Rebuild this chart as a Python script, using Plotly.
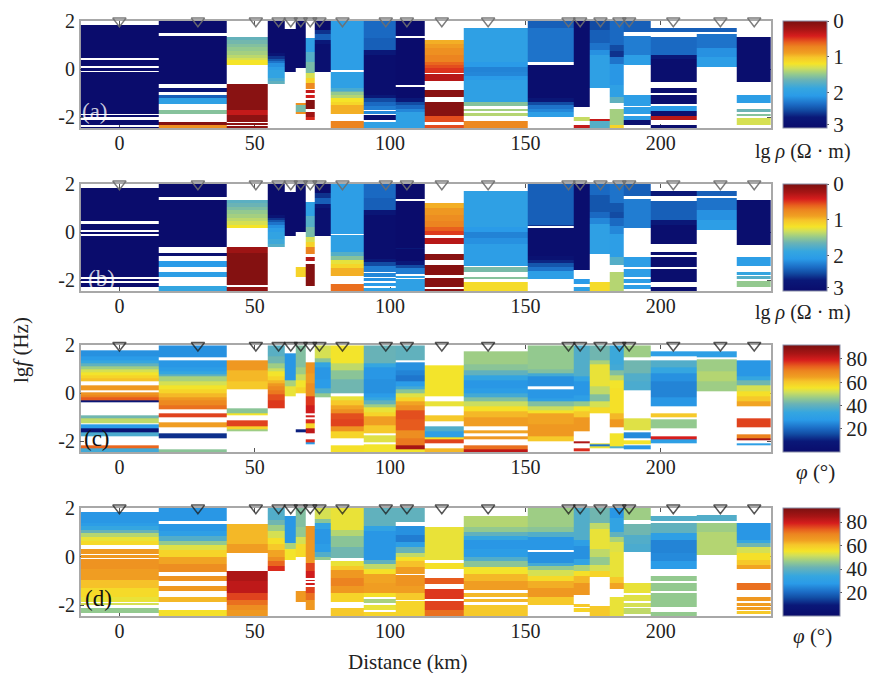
import plotly.graph_objects as go

N = None
# Column edges along the profile (km) and station positions (km)
EDGES = [-14.3, 14.6, 39.6, 54.8, 61.1, 65.2, 68.8, 72, 77.9, 90.4, 102.2, 112.9, 127.3, 151, 167.9, 173.8, 181.2, 186.4, 196.3, 213.2, 228, 240.7]
STATIONS = [0, 29, 50.4, 58.8, 63.3, 67, 70.5, 73.9, 82.4, 98.4, 106.2, 119.1, 136.2, 165.9, 170.2, 177.7, 184.7, 188.3, 204.6, 222, 234.5]
X_TICKS = [0, 50, 100, 150, 200]
Y_TICKS = [2, 0, -2]
Y_LABELS = ["2", "0", "-2"]
RHO_TICKS = [0, 1, 2, 2.9]
RHO_LABELS = ["0", "1", "2", "3"]
PHI_TICKS = [20, 40, 60, 80]

# Every column is a list of (lower edge in lg f, value) running down from lg f = 2
RHO_A = [
 [(1.83,N),(.47,3),(.36,N),(.11,3),(.03,N),(-.06,3),(-.13,N),(-1.85,3),(-1.92,N),(-2.0,3),(-2.1,N),(-2.33,3),(-2.42,N),(-2.45,3)],
 [(1.49,3),(1.36,N),(-.6,3),(-.8,N),(-.97,2.8),(-1.06,N),(-1.22,2.4),(-1.47,2.0),(-1.69,N),(-1.85,1.55),(-2.19,N),(-2.31,.05),(-2.45,.8)],
 [(1.35,N),(1.2,1.68),(1.05,1.62),(.9,1.56),(.75,1.5),(.6,1.45),(.48,1.38),(.37,1.3),(.19,1.2),(-.6,N),(-1.71,.08),(-1.92,.35),(-2.19,.1),(-2.24,N),(-2.31,.1),(-2.36,N),(-2.45,.1)],
 [(.65,3),(.55,2.8),(.44,2.6),(.34,2.45),(.24,2.3),(.1,2.15),(-.04,2.05),(-.36,1.95),(-.5,1.8),(-.6,1.7),(-2.45,N)],
 [(1.67,N),(-.14,3),(-2.45,N)],
 [(.03,3),(-1.43,N),(-1.5,.8),(-1.8,1.6),(-1.87,.8),(-2.45,N)],
 [(1.31,N),(.72,2.0),(.3,1.75),(-.18,1.6),(-.38,1.3),(-.56,1.1),(-.83,.75),(-.89,N),(-1.0,.35),(-1.06,N),(-1.22,.4),(-1.3,N),(-1.67,.05),(-1.78,N),(-2.0,.2),(-2.1,.45),(-2.45,N)],
 [(1.62,3),(1.45,2.6),(1.2,2.4),(1.05,2.7),(-.14,2.9),(-2.45,N)],
 [(-.04,2.05),(-.13,N),(-.8,2.0),(-.9,1.8),(-.97,1.65),(-1.08,1.5),(-1.19,1.4),(-1.35,1.2),(-1.5,1.12),(-1.85,.95),(-2.15,N),(-2.45,.72)],
 [(1.3,2.35),(.79,2.4),(.6,2.7),(-1.08,2.95),(-1.2,2.7),(-1.36,2.5),(-1.55,2.35),(-1.71,2.25),(-1.75,N),(-1.85,2.2),(-1.92,N),(-2.13,2.9),(-2.19,N),(-2.31,2.0),(-2.45,2.0)],
 [(1.39,3),(1.31,N),(-.67,3),(-.74,N),(-1.22,3),(-1.36,2.7),(-1.5,2.5),(-1.65,2.35),(-1.78,2.2),(-2.45,2.0)],
 [(1.21,N),(1.05,.95),(.86,.88),(.6,.8),(.31,.72),(.15,.62),(.03,.55),(-.18,.48),(-.22,N),(-.5,.3),(-.89,N),(-1.15,.08),(-1.38,N),(-1.94,.06),(-2.19,.55),(-2.31,N),(-2.45,.55)],
 [(1.72,N),(.31,2.0),(.1,2.1),(-.11,2.22),(-.3,2.2),(-.46,2.1),(-1.36,2.0),(-1.54,1.55),(-1.64,N),(-1.75,1.45),(-1.81,N),(-1.94,1.4),(-2.17,N),(-2.45,.75)],
 [(1.7,2.4),(.28,2.3),(.19,N),(-1.22,2.95),(-1.35,2.75),(-1.5,2.5),(-1.65,2.3),(-1.78,2.2),(-1.99,2.05),(-2.45,N)],
 [(-1.57,2.95),(-1.99,N),(-2.15,1.35),(-2.33,N),(-2.45,.35)],
 [(1.62,2.5),(1.07,2.4),(.8,2.3),(.58,2.15),(-.8,2.0),(-2.06,N),(-2.14,.35),(-2.45,1.75)],
 [(1.0,2.35),(.75,2.5),(.51,2.6),(.2,2.3),(-.67,2.12),(-1.15,2.0),(-1.4,1.7),(-1.68,N),(-2.31,1.45),(-2.45,1.1)],
 [(1.53,2.4),(1.38,N),(.58,2.25),(.17,2.05),(-1.06,N),(-1.53,2.05),(-1.58,N),(-1.85,2.05),(-1.94,N),(-2.13,2.05),(-2.33,2.9),(-2.45,N)],
 [(1.72,N),(1.53,2.4),(1.35,N),(.58,2.35),(.4,2.7),(-.53,2.95),(-.8,N),(-1.0,2.95),(-1.06,N),(-1.46,2.95),(-1.54,N),(-1.74,2.1),(-1.96,2.9),(-2.1,.3),(-2.31,N),(-2.45,2.95)],
 [(1.72,N),(1.53,2.4),(1.45,N),(.86,2.3),(.5,2.15),(.1,2.05),(-2.45,N)],
 [(1.35,N),(-.53,2.95),(-1.06,N),(-1.4,2.05),(-1.67,N),(-1.78,1.65),(-1.86,N),(-1.94,1.55),(-2.03,N),(-2.33,1.3),(-2.45,N)],
]
RHO_B = [
 [(1.82,N),(.47,3),(.33,N),(.08,3),(0,N),(-.06,3),(-.15,N),(-1.86,3),(-1.97,N),(-2.03,3),(-2.1,N),(-2.3,3),(-2.45,N)],
 [(1.47,3),(1.33,N),(-.62,3),(-.85,N),(-1.0,2.9),(-1.19,N),(-1.47,2.1),(-1.67,N),(-1.86,2.05),(-2.24,N),(-2.45,1.9)],
 [(1.33,N),(1.2,1.72),(1.05,1.65),(.9,1.58),(.75,1.5),(.6,1.45),(.45,1.38),(.3,1.3),(.15,1.2),(-.61,N),(-.85,.18),(-2.2,.05),(-2.3,N),(-2.45,.12)],
 [(.7,3),(.6,2.8),(.5,2.6),(.4,2.45),(.3,2.3),(.15,2.15),(.02,2.05),(-.3,1.95),(-.48,1.85),(-.6,1.75),(-2.45,N)],
 [(1.68,N),(-.17,3),(-2.45,N)],
 [(0,3),(-1.46,N),(-1.87,1.1),(-2.45,N)],
 [(1.27,N),(.65,2.0),(.2,1.75),(-.2,1.6),(-.42,1.3),(-.62,1.1),(-.9,.72),(-1.05,N),(-1.22,.3),(-1.33,N),(-2.25,.05),(-2.45,N)],
 [(1.62,3),(1.4,2.6),(1.15,2.4),(1.0,2.7),(-.17,2.9),(-2.45,N)],
 [(-.07,2.05),(-.14,N),(-.82,2.0),(-.98,1.75),(-1.17,1.55),(-1.33,1.25),(-1.5,1.12),(-1.83,.95),(-2.17,N),(-2.45,.65)],
 [(1.4,2.35),(.9,2.4),(.7,2.75),(-1.1,2.95),(-1.25,2.7),(-1.4,2.5),(-1.65,2.25),(-1.7,N),(-1.85,2.2),(-1.9,N),(-2.05,2.15),(-2.12,N),(-2.25,2.1),(-2.33,N),(-2.45,2.0)],
 [(1.38,3),(1.3,N),(-.68,3),(-.72,2.7),(-1.22,3),(-1.36,2.7),(-1.5,2.5),(-1.75,2.25),(-1.82,N),(-1.9,2.05),(-1.95,N),(-2.45,2.0)],
 [(1.19,N),(1.0,.95),(.7,.85),(.45,.78),(.22,.72),(.05,.6),(-.12,.5),(-.26,N),(-.5,.3),(-.92,N),(-1.14,.08),(-1.38,N),(-1.79,.06),(-1.89,N),(-2.3,.06),(-2.36,N),(-2.45,.1)],
 [(1.72,N),(.2,2.0),(0,2.1),(-.25,2.22),(-.5,2.15),(-1.4,2.05),(-1.47,N),(-1.67,1.6),(-1.86,N),(-1.97,1.55),(-2.08,N),(-2.45,1.15)],
 [(.3,2.4),(.25,2.6),(.17,N),(-1.0,2.95),(-1.15,2.85),(-1.3,2.65),(-1.45,2.45),(-1.6,2.3),(-1.95,2.05),(-2.45,N)],
 [(-1.58,2.95),(-1.97,N),(-2.17,2.1),(-2.3,N),(-2.45,2.0)],
 [(1.55,2.35),(.85,2.45),(.6,2.35),(.35,2.2),(-.9,2.0),(-2.07,N),(-2.45,1.15)],
 [(1.2,2.3),(.85,2.45),(.6,2.5),(.25,2.35),(-.1,2.2),(-1.03,2.05),(-1.38,1.75),(-1.65,N),(-2.45,1.4)],
 [(1.5,2.4),(1.36,N),(.15,2.25),(-1.05,N),(-1.47,2.05),(-1.53,N),(-1.85,2.05),(-1.95,N),(-2.1,2.05),(-2.2,N),(-2.35,2.05),(-2.45,N)],
 [(1.72,N),(1.5,2.7),(1.3,N),(.5,2.4),(.3,2.7),(-.5,2.95),(-.82,N),(-.97,2.95),(-1.03,N),(-1.44,2.95),(-1.55,N),(-2.07,2.95),(-2.3,N),(-2.45,2.95)],
 [(1.72,N),(1.5,2.4),(1.42,N),(.9,2.3),(.5,2.15),(.08,2.05),(-2.45,N)],
 [(1.33,N),(-.54,2.95),(-1.05,N),(-1.4,2.05),(-1.67,N),(-1.78,1.9),(-1.83,N),(-1.93,1.75),(-2.02,N),(-2.3,1.5),(-2.45,N)],
]
PHI_C = [
 [(1.81,N),(1.55,26),(1.39,28),(1.25,34),(1.14,40),(1.0,47),(.88,52),(.76,55),(.62,58),(.49,61),(.33,N),(.11,66),(.03,N),(-.07,67),(-.18,70),(-.31,74),(-.39,8),(-.92,N),(-1.04,42),(-1.25,50),(-1.29,N),(-1.47,28),(-1.61,6),(-1.81,37),(-2.19,N),(-2.31,73),(-2.45,36)],
 [(1.5,26),(1.36,N),(1.1,27),(.9,29),(.8,34),(.69,40),(.5,48),(.35,52),(.15,55),(0,58),(-.15,62),(-.31,66),(-.5,69),(-.67,72),(-.83,N),(-1.01,76),(-1.22,N),(-1.42,65),(-1.68,N),(-1.88,12),(-2.33,N),(-2.45,45)],
 [(1.36,N),(.97,66),(.5,62),(.17,60),(-.63,N),(-.83,45),(-.94,55),(-1.14,N),(-1.39,76),(-1.5,58),(-1.6,47),(-2.45,N)],
 [(1.55,39),(1.25,42),(1.05,47),(.9,51),(.72,55),(.55,58),(.4,62),(.28,66),(.12,69),(-.03,71),(-.3,75),(-.63,77),(-2.45,N)],
 [(1.67,N),(.55,27),(.3,48),(-.14,54),(-2.45,N)],
 [(1.1,44),(.8,47),(.55,51),(.25,55),(0,58),(-1.5,N),(-1.62,10),(-2.45,N)],
 [(1.28,N),(.85,67),(.4,65),(-.11,68),(-.5,77),(-.83,80),(-.92,N),(-1.0,80),(-1.08,N),(-1.25,78),(-1.47,58),(-1.69,82),(-1.92,N),(-2.04,78),(-2.14,28),(-2.45,N)],
 [(1.45,52),(1.3,45),(1.1,33),(.6,27),(.2,28),(0,38),(-.18,46),(-2.45,N)],
 [(1.25,55),(.97,50),(.6,45),(0,42),(-.14,N),(-.3,54),(-.49,60),(-.66,64),(-.83,68),(-1.1,75),(-1.39,76),(-1.6,67),(-1.88,58),(-2.15,N),(-2.45,56)],
 [(1.25,41),(1.1,34),(.6,27),(0,26),(-.15,28),(-.3,34),(-.45,40),(-.6,47),(-.8,54),(-.95,58),(-1.35,65),(-1.68,60),(-1.75,N),(-2.05,53),(-2.12,N),(-2.45,55)],
 [(1.39,40),(1.28,N),(.95,26),(.76,24),(.5,22),(.28,28),(.15,36),(0,45),(-.18,53),(-.35,58),(-.52,64),(-.69,68),(-1.1,75),(-1.53,74),(-1.88,68),(-2.15,71),(-2.33,85),(-2.45,55)],
 [(1.18,N),(-.14,55),(-.32,N),(-.56,54),(-.9,N),(-1.18,60),(-1.39,N),(-1.6,38),(-1.84,30),(-1.92,56),(-2.1,76),(-2.31,N),(-2.45,62)],
 [(1.73,N),(1.2,47),(.97,45),(.75,40),(.55,33),(.2,27),(0,29),(-.15,36),(-.35,44),(-.55,51),(-.76,56),(-1.0,62),(-1.39,65),(-1.53,N),(-1.69,64),(-1.81,N),(-1.94,66),(-2.15,N),(-2.33,72),(-2.45,82)],
 [(1.0,46),(.85,44),(.7,36),(.3,26),(.18,N),(-.2,27),(-.35,30),(-.55,44),(-.7,51),(-.85,56),(-1.3,64),(-1.8,66),(-2.0,60),(-2.45,N)],
 [(.7,38),(.5,32),(-.1,27),(-.35,30),(-.55,46),(-.76,55),(-1.0,60),(-1.6,66),(-2.0,N),(-2.1,84),(-2.31,N),(-2.42,78),(-2.45,N)],
 [(1.39,42),(1.2,48),(.9,54),(.3,54),(-.05,50),(-.35,44),(-.6,52),(-.83,57),(-2.08,N),(-2.13,54),(-2.2,22),(-2.3,54),(-2.45,N)],
 [(1.2,35),(.95,36),(.75,44),(.55,50),(.2,55),(-.83,56),(-1.1,62),(-1.4,66),(-1.67,N),(-2.22,55),(-2.3,38),(-2.45,N)],
 [(1.52,47),(1.36,N),(.85,42),(.5,38),(.14,37),(-1.05,N),(-1.55,53),(-1.62,N),(-1.88,25),(-1.98,N),(-2.12,55),(-2.18,N),(-2.33,27),(-2.45,N)],
 [(1.75,N),(1.53,30),(1.36,N),(1.1,38),(.85,34),(.5,26),(-.15,24),(-.55,27),(-.83,N),(-1.0,60),(-1.08,N),(-1.47,46),(-1.78,N),(-1.94,79),(-2.1,30),(-2.45,N)],
 [(1.75,N),(1.5,30),(1.4,N),(.9,47),(.5,49),(.1,47),(-2.45,N)],
 [(1.36,N),(.7,27),(.52,34),(.35,42),(.1,52),(-.14,56),(-.35,60),(-.56,64),(-1.04,N),(-1.42,76),(-1.7,N),(-1.86,70),(-1.98,85),(-2.07,N),(-2.18,30),(-2.45,N)],
]
PHI_D = [
 [(1.82,N),(1.4,27),(1.24,29),(1.1,34),(.97,41),(.8,49),(.65,54),(.48,57),(.33,N),(.1,66),(.06,N),(-.05,66),(-.11,N),(-.5,67),(-.96,65),(-1.3,61),(-1.65,57),(-1.86,54),(-1.92,N),(-2.0,52),(-2.13,N),(-2.34,46),(-2.45,N)],
 [(1.48,27),(1.35,N),(1.05,27),(.83,30),(.65,38),(.48,46),(.25,53),(0,58),(-.3,64),(-.62,68),(-.81,N),(-.99,67),(-1.21,N),(-1.44,66),(-1.68,N),(-1.86,62),(-2.2,N),(-2.45,56)],
 [(1.34,N),(.8,62),(.5,62),(.14,65),(-.58,N),(-1.0,84),(-1.5,82),(-1.8,76),(-2.0,72),(-2.2,68),(-2.45,66)],
 [(1.5,38),(1.31,42),(1.05,47),(.75,52),(.5,56),(.25,60),(0,64),(-.2,68),(-.4,73),(-.6,78),(-2.45,N)],
 [(1.66,N),(.55,27),(.3,48),(-.14,55),(-2.45,N)],
 [(1.2,44),(.82,46),(.5,52),(0,57),(-1.44,N),(-1.86,66),(-2.45,N)],
 [(1.27,N),(.7,67),(-.27,66),(-.6,76),(-.9,80),(-.95,N),(-1.02,80),(-1.08,N),(-1.16,80),(-1.24,N),(-1.5,76),(-1.78,72),(-2.22,66),(-2.45,N)],
 [(1.55,52),(1.38,45),(1.15,32),(.5,27),(.2,29),(0,38),(-.16,46),(-2.45,N)],
 [(1.1,54),(.83,49),(.4,45),(-.07,42),(-.2,N),(-.4,54),(-.55,60),(-.9,66),(-1.22,70),(-1.5,66),(-1.86,58),(-2.13,N),(-2.45,60)],
 [(1.24,40),(1.05,32),(.5,27),(-.14,27),(-.3,40),(-.5,50),(-.7,56),(-1.1,64),(-1.5,65),(-1.68,56),(-1.73,N),(-1.93,48),(-2.0,N),(-2.2,54),(-2.3,N),(-2.45,58)],
 [(1.41,40),(1.27,N),(.9,26),(.6,23),(.4,30),(.15,41),(0,50),(-.2,56),(-.45,61),(-.7,65),(-.77,N),(-1.2,67),(-1.5,65),(-1.78,60),(-1.83,N),(-2.45,58)],
 [(1.2,N),(-.13,54),(-.28,N),(-.5,56),(-.9,N),(-1.13,74),(-1.35,N),(-1.76,77),(-1.82,N),(-2.22,76),(-2.45,72)],
 [(1.68,N),(1.2,49),(1.03,46),(.85,40),(.7,34),(.3,27),(0,29),(-.2,38),(-.43,45),(-.7,55),(-1.0,62),(-1.37,65),(-1.5,N),(-1.67,62),(-1.74,N),(-1.88,62),(-2.0,N),(-2.45,60)],
 [(1.2,47),(1.03,45),(.8,38),(.27,27),(.2,N),(-.27,26),(-.4,36),(-.55,46),(-.8,52),(-1.0,57),(-1.3,63),(-1.65,66),(-2.0,60),(-2.45,N)],
 [(.7,38),(.45,30),(-.1,26),(-.35,32),(-.6,48),(-.82,56),(-1.1,62),(-1.58,66),(-1.95,N),(-2.08,60),(-2.13,N),(-2.3,58),(-2.45,N)],
 [(1.38,42),(1.15,50),(.85,54),(.3,54),(0,50),(-.33,46),(-.6,52),(-.85,58),(-2.05,N),(-2.45,60)],
 [(1.6,27),(1.03,32),(.8,40),(.6,48),(.2,53),(-.83,54),(-1.1,60),(-1.35,64),(-1.68,N),(-2.45,54)],
 [(1.5,47),(1.36,N),(.9,42),(.5,38),(.17,37),(-1.07,N),(-1.5,54),(-1.57,N),(-1.85,53),(-1.92,N),(-2.06,52),(-2.13,N),(-2.37,50),(-2.45,N)],
 [(1.68,N),(1.45,38),(1.38,N),(.97,40),(.7,30),(.14,24),(-.2,25),(-.52,28),(-.82,N),(-1.0,46),(-1.08,N),(-1.42,46),(-1.5,N),(-2.07,46),(-2.3,N),(-2.45,46)],
 [(1.72,N),(1.48,38),(1.38,N),(1.0,47),(.6,49),(.07,49),(-2.45,N)],
 [(1.38,N),(.69,27),(.55,34),(.4,42),(.15,52),(-.14,56),(-.35,60),(-.52,64),(-1.07,N),(-1.37,72),(-1.65,N),(-1.83,66),(-1.9,N),(-2.02,65),(-2.08,N),(-2.2,65),(-2.25,N),(-2.35,60),(-2.45,N)],
]

COLORSCALE = [
 [0, "#0a0c6c"], [.10, "#0a1878"], [.17, "#124ea5"], [.22, "#1b6bc4"], [.30, "#2a9be8"],
 [.37, "#35a6e0"], [.45, "#6bb3b5"], [.50, "#93c98f"], [.56, "#d0df5a"], [.60, "#f5e428"],
 [.66, "#f6c52a"], [.70, "#f0a022"], [.76, "#ec8420"], [.80, "#e8601e"], [.86, "#d61d1d"], [.92, "#a81515"], [1, "#7a1010"],
]

W, H = 869, 673
PLOT_L, PLOT_R = 80.7, 771
BAR_L = 782.7
SERIF = "Liberation Serif"
INK = "#222222"
PANELS = [
 dict(cols=RHO_A, top=21, bottom=128, kind="rho", thick=44, tri="rgba(110,110,110,0.9)"),
 dict(cols=RHO_B, top=184, bottom=291, kind="rho", thick=44, tri="rgba(110,110,110,0.9)"),
 dict(cols=PHI_C, top=345.3, bottom=452, kind="phi", thick=57, tri="rgba(30,30,30,0.75)"),
 dict(cols=PHI_D, top=508, bottom=616, kind="phi", thick=57, tri="rgba(30,30,30,0.75)"),
]


def grid(cols, sign):
    """Union of all column breaks; each cell takes its column's value."""
    ys = sorted({2.0} | {e for c in cols for e, _ in c})
    z = []
    for lo, hi in zip(ys[:-1], ys[1:]):
        mid = (lo + hi) / 2
        row = []
        for c in cols:
            val, upper = None, 2.0
            for edge, v in c:
                if edge <= mid <= upper:
                    val = v
                    break
                upper = edge
            row.append(None if val is None else sign * val)
        z.append(row)
    return ys, z


fig = go.Figure()
layout = dict(
    width=W, height=H, autosize=False, margin=dict(l=0, r=0, t=0, b=0, autoexpand=False),
    paper_bgcolor="white", plot_bgcolor="white", showlegend=False,
    font=dict(family=SERIF, size=20, color=INK), annotations=[],
)

for i, p in enumerate(PANELS, start=1):
    suffix = "" if i == 1 else str(i)
    is_rho = p["kind"] == "rho"
    ys, z = grid(p["cols"], -1 if is_rho else 1)
    fig.add_trace(go.Heatmap(x=EDGES, y=ys, z=z, coloraxis="coloraxis" + suffix,
                             xaxis="x" + suffix, yaxis="y" + suffix, hoverongaps=False))
    fig.add_trace(go.Scatter(x=STATIONS, y=[2.0] * len(STATIONS), mode="markers", cliponaxis=False,
                             marker=dict(symbol="triangle-down-open", size=11.5,
                                         line=dict(color=p["tri"], width=1.5), color=p["tri"]),
                             xaxis="x" + suffix, yaxis="y" + suffix, hoverinfo="skip"))
    common = dict(showgrid=False, zeroline=False, showline=True, mirror="ticks", linecolor="#a8a8a8",
                  linewidth=1.5, ticks="inside", ticklen=4, tickcolor="#555555", tickwidth=1,
                  layer="below traces", tickfont=dict(family=SERIF, size=20, color=INK))
    layout["xaxis" + suffix] = dict(common, domain=[PLOT_L / W, PLOT_R / W], range=[EDGES[0], EDGES[-1]],
                                    tickvals=X_TICKS, ticktext=[str(t) for t in X_TICKS],
                                    anchor="y" + suffix, ticklabelstandoff=-4)
    layout["yaxis" + suffix] = dict(common, domain=[1 - p["bottom"] / H, 1 - p["top"] / H], range=[-2.45, 2],
                                    tickvals=Y_TICKS, ticktext=Y_LABELS, anchor="x" + suffix)
    bar = dict(x=BAR_L / W, xanchor="left", xpad=0, ypad=0, y=1 - p["bottom"] / H, yanchor="bottom",
               lenmode="fraction", len=(p["bottom"] - p["top"]) / H, thicknessmode="pixels",
               thickness=p["thick"], outlinecolor="#8a8fa8", outlinewidth=1, ticks="outside", ticklen=2,
               tickcolor="#555555", tickfont=dict(family=SERIF, size=21, color=INK))
    if is_rho:
        bar.update(tickvals=[-t for t in RHO_TICKS], ticktext=RHO_LABELS)
        axis = dict(colorscale=COLORSCALE, cmin=-3, cmax=0, colorbar=bar)
    else:
        bar.update(tickvals=PHI_TICKS, ticktext=[str(t) for t in PHI_TICKS])
        axis = dict(colorscale=COLORSCALE, cmin=0, cmax=92, colorbar=bar)
    layout["coloraxis" + suffix] = axis


def note(text, px, py, size=18, color=INK, angle=0):
    layout["annotations"].append(dict(text=text, x=px / W, y=1 - py / H, xref="paper", yref="paper",
                                      showarrow=False, textangle=angle, xanchor="center", yanchor="middle",
                                      font=dict(family=SERIF, size=size, color=color)))


note("lg<i>f</i> (Hz)", 21, 350, 21, angle=-90)
note("Distance (km)", 408, 662, 21)
note("lg <i>ρ</i> (Ω · m)", 803, 151, 20)
note("lg <i>ρ</i> (Ω · m)", 803, 312, 20)
note("<i>φ</i> (°)", 815, 472, 21)
note("<i>φ</i> (°)", 812, 636, 21)
note("(a)", 95, 112, 23, "rgba(255,255,255,0.8)")
note("(b)", 101, 278, 23, "rgba(255,255,255,0.8)")
note("(c)", 97, 438, 23, "#111111")
note("(d)", 98, 598, 23, "#111111")

fig.update_layout(**layout)
fig.write_html("out.html", config={"displayModeBar": False}, post_script="document.body.style.margin='0';")
